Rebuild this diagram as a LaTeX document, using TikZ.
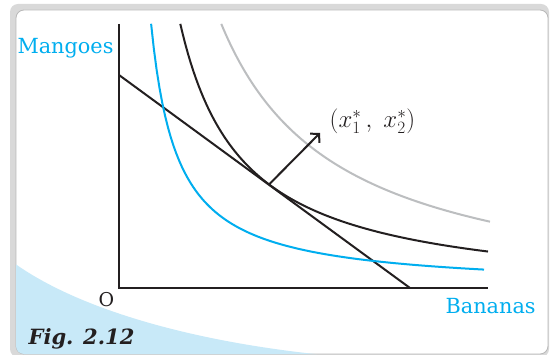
\documentclass[tikz,border=0pt]{standalone}
\usepackage{fontspec}
\setmainfont{DejaVu Serif}
\usetikzlibrary{arrows.meta}
\definecolor{cyanc}{HTML}{00AEEF}
\definecolor{lightb}{HTML}{C8E9F8}
\definecolor{grayc}{HTML}{BCBEC0}
\definecolor{inkc}{HTML}{231F20}
\begin{document}
\begin{tikzpicture}[x=1pt,y=-1pt,
  axisline/.style={draw=inkc,line width=2.2pt},
  budget/.style={draw=inkc,line width=2pt},
  icblue/.style={draw=cyanc,line width=2pt},
  icblack/.style={draw=inkc,line width=2pt},
  icgray/.style={draw=grayc,line width=2pt},
  arrowst/.style={draw=inkc,line width=2pt,-{Straight Barb[length=6pt,width=13pt]}},
  axlabel/.style={text=cyanc,font=\fontsize{20.8}{24}\selectfont,inner sep=0pt},
  blabel/.style={text=inkc,font=\fontsize{19}{22}\selectfont,inner sep=0pt}]
\useasboundingbox (0,0) rectangle (551,355);
\fill[gray!30,rounded corners=8pt] (10,4) rectangle (549,357);
\path[fill=white,draw=gray!55,line width=0.8pt,rounded corners=8pt] (16,10) rectangle (548,354);
\begin{scope}
\clip[rounded corners=8pt] (16,10) rectangle (548,354);
\fill[lightb] (14,263) .. controls (78,309) and (195,344) .. (345,357) -- (14,357) -- cycle;
\end{scope}
\coordinate (O) at (119,288);
\coordinate (ytop) at (119,24);
\coordinate (xend) at (488,288);
\draw[axisline] (ytop) -- (O) -- (xend);
\coordinate (b1) at (119,75);
\coordinate (b2) at (410,288);
\draw[budget] (b1) -- (b2);
\draw[icblue] plot[domain=32.1:365,samples=120] ({119+\x},{288-(69.75/((\x-5.8)/100)-1)});
\draw[icblack] plot[domain=61.3:369,samples=120] ({119+\x},{288-(172.14/((\x+1.5)/100)-10)});
\draw[icgray] plot[domain=102.3:371,samples=120] ({119+\x},{288-(333.2/((\x+15)/100)-20)});
\coordinate (E) at (269,184.5);
\coordinate (tip) at (320,133);
\draw[arrowst] (E) -- (tip);
\node[text=inkc,font=\fontsize{23.5}{27}\selectfont,inner sep=0pt] (lab) at (372.5,121) {$(x_1^*\,,\;x_2^*)$};
\node[axlabel] (mango) at (65.5,48) {Mangoes};
\node[axlabel] (bananas) at (490.6,306.5) {Bananas};
\node[blabel] (origin) at (106.5,299.5) {O};
\node[text=inkc,font=\fontsize{21}{24}\selectfont\bfseries\itshape,inner sep=0pt] (fig) at (81.5,338.5) {Fig. 2.12};
\end{tikzpicture}
\end{document}
